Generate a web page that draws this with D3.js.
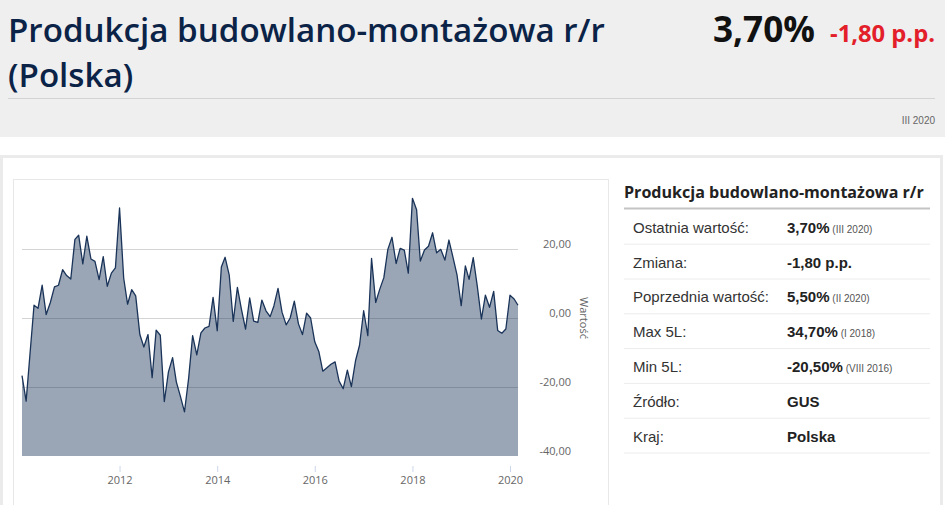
<!DOCTYPE html>
<html lang="pl">
<head>
    <meta charset="UTF-8">
    <title>Produkcja budowlano-montażowa r/r (Polska)</title>
    <script src="https://d3js.org/d3.v7.min.js"></script>
    <style>
        body { margin: 0; background: #fff; }
        svg { display: block; }
    </style>
</head>
<body>
<script>
    const width  = 945;
    const height = 505;

    // monthly values, 2010-01 .. 2020-03 (% r/r)
    const startMonth = new Date(2010, 0, 1);
    const values = [
        -16.7, -24.1, -10.8, 3.7, 2.8, 9.5, 1.0, 4.5, 9.0, 9.5, 14.0, 12.3,
        11.3, 22.8, 24.0, 15.7, 23.7, 17.1, 16.4, 11.1, 17.8, 9.2, 13.0, 14.5,
        31.9, 11.6, 4.0, 8.2, 6.4, -4.8, -8.4, -4.8, -17.3, -3.5, -5.0, -24.2,
        -15.6, -11.5, -18.5, -22.8, -27.2, -17.5, -5.1, -10.7, -4.3, -2.9, -2.4, 6.0,
        -3.7, 14.8, 17.6, 12.4, -1.0, 8.9, 2.6, -3.2, 5.8, -0.9, -1.3, 5.2,
        2.1, 0.4, 3.5, 8.6, 1.7, -2.0, 0.0, 4.9, -1.7, -4.8, 1.4, 0.0,
        -6.9, -9.8, -15.4, -14.4, -13.4, -12.7, -18.3, -20.5, -15.1, -19.9, -12.4, -7.9,
        2.1, -5.1, 17.3, 4.5, 8.3, 11.7, 19.9, 23.4, 15.8, 20.2, 19.7, 13.0,
        34.7, 31.4, 16.5, 19.7, 20.8, 24.7, 18.9, 19.9, 16.8, 22.6, 17.5, 12.4,
        3.6, 15.1, 11.2, 17.5, 9.3, -0.3, 6.6, 3.1, 7.7, -3.6, -4.4, -3.2,
        6.6, 5.5, 3.7
    ];

    const yTicks = [-40, -20, 0, 20];
    const xTickYears = [2012, 2014, 2016, 2018, 2020];

    const titleLines = ["Produkcja budowlano-montażowa r/r", "(Polska)"];
    const lastValue = "3,70%";
    const lastChange = "-1,80 p.p.";
    const lastPeriod = "III 2020";

    const tableTitle = "Produkcja budowlano-montażowa r/r";
    const tableLabels = ["Ostatnia wartość:", "Zmiana:", "Poprzednia wartość:", "Max 5L:", "Min 5L:", "Źródło:", "Kraj:"];
    const tableValues = ["3,70%", "-1,80 p.p.", "5,50%", "34,70%", "-20,50%", "GUS", "Polska"];
    const tableNotes  = ["(III 2020)", "", "(II 2020)", "(I 2018)", "(VIII 2016)", "", ""];

    const data = values.map((v, i) => ({date: d3.timeMonth.offset(startMonth, i), value: v}));

    const pl = d3.formatLocale({decimal: ",", thousands: " ", grouping: [3], currency: ["", " zł"], minus: "-"});
    const fmt = pl.format(".2f");

    const svg = d3.select("body").append("svg").attr("width", width).attr("height", height);

    function fitWidth(sel, target) {
        const len = sel.node().getComputedTextLength();
        const fs = parseFloat(sel.attr("font-size"));
        sel.attr("font-size", fs * target / len);
        return fs * target / len;
    }

    // ---- header ----
    svg.append("rect").attr("width", width).attr("height", 137).attr("fill", "#efefef");

    const t1 = svg.append("text")
            .text(titleLines[0])
            .attr("x", 8).attr("y", 42)
            .attr("font-family", "'Open Sans', sans-serif")
            .attr("font-weight", 600)
            .attr("font-size", 33)
            .attr("fill", "#0b2347");
    const titleSize = fitWidth(t1, 597);
    svg.append("text")
            .text(titleLines[1])
            .attr("x", 8).attr("y", 42 + titleSize * 1.37)
            .attr("font-family", "'Open Sans', sans-serif")
            .attr("font-weight", 600)
            .attr("font-size", titleSize)
            .attr("fill", "#0b2347");

    const v1 = svg.append("text")
            .text(lastValue)
            .attr("x", 713).attr("y", 42)
            .attr("font-family", "'Open Sans', sans-serif")
            .attr("font-weight", 700)
            .attr("font-size", 31)
            .attr("fill", "#111");
    fitWidth(v1, 102);
    const c1 = svg.append("text")
            .text(lastChange)
            .attr("x", 830).attr("y", 42)
            .attr("font-family", "'Open Sans', sans-serif")
            .attr("font-weight", 700)
            .attr("font-size", 19)
            .attr("fill", "#e3202a");
    fitWidth(c1, 105);

    svg.append("line")
            .attr("x1", 8).attr("x2", 935)
            .attr("y1", 98.5).attr("y2", 98.5)
            .attr("stroke", "#d4d4d4");

    svg.append("text")
            .text(lastPeriod)
            .attr("x", 935).attr("y", 124)
            .attr("text-anchor", "end")
            .attr("font-family", "'Liberation Sans', Arial, sans-serif")
            .attr("font-size", 10)
            .attr("fill", "#666");

    // ---- content boxes ----
    svg.append("rect")
            .attr("x", 1.5).attr("y", 156.5)
            .attr("width", 940).attr("height", 360)
            .attr("fill", "#fff").attr("stroke", "#ebebeb").attr("stroke-width", 3);
    svg.append("rect")
            .attr("x", 13.5).attr("y", 179.5)
            .attr("width", 595).attr("height", 340)
            .attr("fill", "#fff").attr("stroke", "#e8e8e8");

    // ---- chart ----
    const plot = {left: 22, right: 518, top: 180, bottom: 456};

    const x = d3.scaleTime()
            .domain(d3.extent(data, d => d.date))
            .range([plot.left, plot.right]);
    const y = d3.scaleLinear()
            .domain([-40, 40])
            .range([plot.bottom, plot.top]);

    const g = svg.append("g");

    g.selectAll(".grid")
            .data(yTicks.filter(d => d !== -40))
            .enter().append("line")
            .attr("class", "grid")
            .attr("x1", plot.left).attr("x2", plot.right)
            .attr("y1", d => Math.round(y(d)) + 0.5).attr("y2", d => Math.round(y(d)) + 0.5)
            .attr("stroke", "#d4d4d4");

    const area = d3.area()
            .x(d => x(d.date))
            .y0(y(-40))
            .y1(d => y(d.value));
    const line = d3.line()
            .x(d => x(d.date))
            .y(d => y(d.value));

    g.append("path")
            .attr("d", area(data))
            .attr("fill", "#0f2b50")
            .attr("fill-opacity", 0.42);
    g.append("path")
            .attr("d", line(data))
            .attr("fill", "none")
            .attr("stroke", "#1a3358")
            .attr("stroke-width", 1.3)
            .attr("stroke-linejoin", "round");

    // x axis
    const xAxis = d3.axisBottom(x)
            .tickValues(xTickYears.map(yr => new Date(yr, 0, 1)))
            .tickFormat(d3.timeFormat("%Y"))
            .tickSize(6)
            .tickPadding(4);
    const gx = svg.append("g")
            .attr("transform", "translate(0," + 466 + ")")
            .call(xAxis);
    gx.select(".domain").remove();
    gx.selectAll(".tick line").attr("stroke", "#ccd6eb");
    gx.selectAll(".tick text")
            .attr("font-family", "'Open Sans', sans-serif")
            .attr("font-size", 11)
            .attr("fill", "#666");

    // y axis (right side)
    g.selectAll(".ylab")
            .data(yTicks)
            .enter().append("text")
            .attr("class", "ylab")
            .text(d => fmt(d))
            .attr("x", 571)
            .attr("y", d => y(d) + 0.5)
            .attr("dy", "-0.1em")
            .attr("text-anchor", "end")
            .attr("font-family", "'Open Sans', sans-serif")
            .attr("font-size", 11)
            .attr("fill", "#666");

    svg.append("text")
            .text("Wartość")
            .attr("transform", "translate(580," + y(0) + ") rotate(90)")
            .attr("text-anchor", "middle")
            .attr("font-family", "'Open Sans', sans-serif")
            .attr("font-size", 11)
            .attr("fill", "#666");

    // ---- table ----
    const tt = svg.append("text")
            .text(tableTitle)
            .attr("x", 624).attr("y", 198)
            .attr("font-family", "'Open Sans', sans-serif")
            .attr("font-weight", 700)
            .attr("font-size", 17)
            .attr("fill", "#222");
    fitWidth(tt, 300);
    svg.append("line")
            .attr("x1", 624).attr("x2", 930)
            .attr("y1", 208.5).attr("y2", 208.5)
            .attr("stroke", "#c4c4c4").attr("stroke-width", 2);

    const rowH = 34.8;
    const rows = svg.selectAll(".row")
            .data(tableLabels)
            .enter().append("g")
            .attr("class", "row")
            .attr("transform", (d, i) => "translate(0," + (232.7 + i * rowH) + ")");

    rows.append("line")
            .attr("x1", 624).attr("x2", 930)
            .attr("y1", 11.5).attr("y2", 11.5)
            .attr("stroke", "#ececec");
    rows.append("text")
            .text(d => d)
            .attr("x", 633)
            .attr("font-family", "'Liberation Sans', Arial, sans-serif")
            .attr("font-size", 15)
            .attr("fill", "#333");
    const vt = rows.append("text")
            .attr("x", 787)
            .attr("font-family", "'Liberation Sans', Arial, sans-serif")
            .attr("fill", "#222");
    vt.append("tspan")
            .text((d, i) => tableValues[i])
            .attr("font-weight", 700)
            .attr("font-size", 15);
    vt.append("tspan")
            .text((d, i) => tableNotes[i] ? " " + tableNotes[i] : "")
            .attr("font-size", 10)
            .attr("fill", "#555");
</script>
</body>
</html>
